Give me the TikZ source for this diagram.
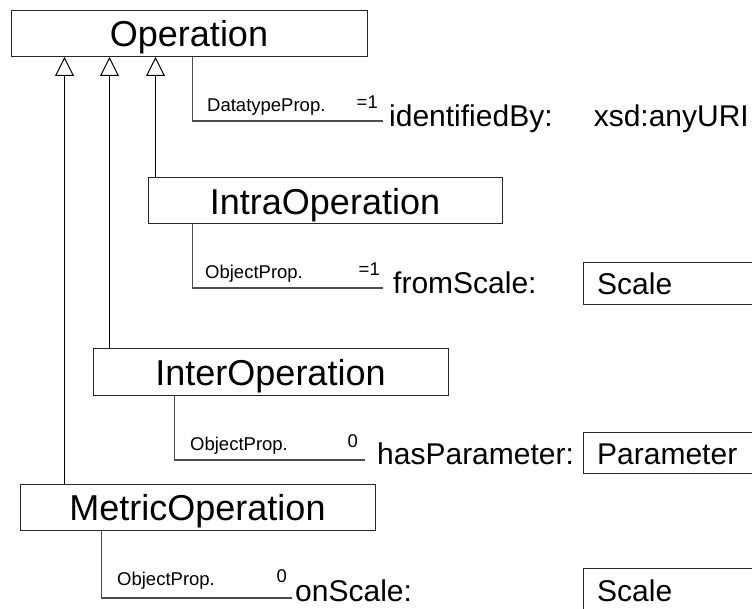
\documentclass[tikz,border=0pt]{standalone}
\usepackage{fontspec}
\setmainfont{Liberation Sans}
\usetikzlibrary{arrows.meta}

\newcommand{\fsClass}{\fontsize{36}{40}\selectfont}
\newcommand{\fsProp}{\fontsize{30}{34}\selectfont}
\newcommand{\fsTag}{\fontsize{18.5}{21}\selectfont}

\tikzset{
  classbox/.style={draw=black!85, line width=1pt, minimum height=46pt,
    inner sep=0pt, text height=27pt, text depth=0pt, font=\fsClass},
  rangebox/.style={draw=black!85, line width=1pt, fill=white},
  genline/.style={draw=black, line width=1pt,
    -{Triangle[open, width=19pt, length=19pt, line width=1pt]}},
  propline/.style={draw=black!70, line width=1.2pt},
  tag/.style={font=\fsTag, inner sep=0pt, anchor=base west},
  card/.style={font=\fsTag, inner sep=0pt, anchor=base east},
  proplabel/.style={font=\fsProp, inner sep=0pt, anchor=base west},
  rangelabel/.style={font=\fsProp, inner sep=0pt, anchor=base west},
}

\begin{document}
\begin{tikzpicture}[x=1pt, y=-1pt]
  \useasboundingbox (0,0) rectangle (752,609);
  \clip (0,0) rectangle (752,609);

  % class boxes
  \node[classbox, minimum width=356pt] (op)     at (189,33.5)  {Operation};
  \node[classbox, minimum width=354pt] (intra)  at (325,201)   {IntraOperation};
  \node[classbox, minimum width=355pt] (inter)  at (270.5,372) {InterOperation};
  \node[classbox, minimum width=355pt] (metric) at (197.5,507) {MetricOperation};

  % generalisation arrows to Operation
  \draw[genline] ([xshift=8pt]intra.north west)
     -- ([xshift=8pt]intra.north west |- op.south);
  \draw[genline] ([xshift=17pt]inter.north west)
     -- ([xshift=17pt]inter.north west |- op.south);
  \draw[genline] ([xshift=45pt]metric.north west)
     -- ([xshift=45pt]metric.north west |- op.south);

  % property connector ends
  \coordinate (p1) at (383,121);
  \coordinate (p2) at (383,288);
  \coordinate (p3) at (365,460);
  \coordinate (p4) at (292,598);

  \draw[propline] ([xshift=182pt]op.south west) |- (p1);
  \draw[propline] ([xshift=45pt]intra.south west) |- (p2);
  \draw[propline] ([xshift=82pt]inter.south west) |- (p3);
  \draw[propline] ([xshift=82pt]metric.south west) |- (p4);

  % property tags and cardinalities
  \node[tag]  (t1) at (207,112) {DatatypeProp.};
  \node[card] (c1) at (378,109) {=1};
  \node[tag]  (t2) at (205,279) {ObjectProp.};
  \node[card] (c2) at (380,276) {=1};
  \node[tag]  (t3) at (190,450) {ObjectProp.};
  \node[card] (c3) at (358,447) {0};
  \node[tag]  (t4) at (117,585) {ObjectProp.};
  \node[card] (c4) at (287,582) {0};

  % property names
  \node[proplabel] (l1) at (389,127) {identifiedBy:};
  \node[proplabel] (l2) at (393,294) {fromScale:};
  \node[proplabel] (l3) at (377,464) {hasParameter:};
  \node[proplabel] (l4) at (295,601) {onScale:};

  % ranges
  \node[font=\fsProp, inner sep=0pt, anchor=base east] (r1) at (749,127) {xsd:anyURI};
  \draw[rangebox] (583,263) rectangle (770,305);
  \node[rangelabel] (r2) at (597,295) {Scale};
  \draw[rangebox] (583,432) rectangle (770,473);
  \node[rangelabel] (r3) at (597,464) {Parameter};
  \draw[rangebox] (583,568) rectangle (770,640);
  \node[rangelabel] (r4) at (597,601) {Scale};
\end{tikzpicture}
\end{document}
